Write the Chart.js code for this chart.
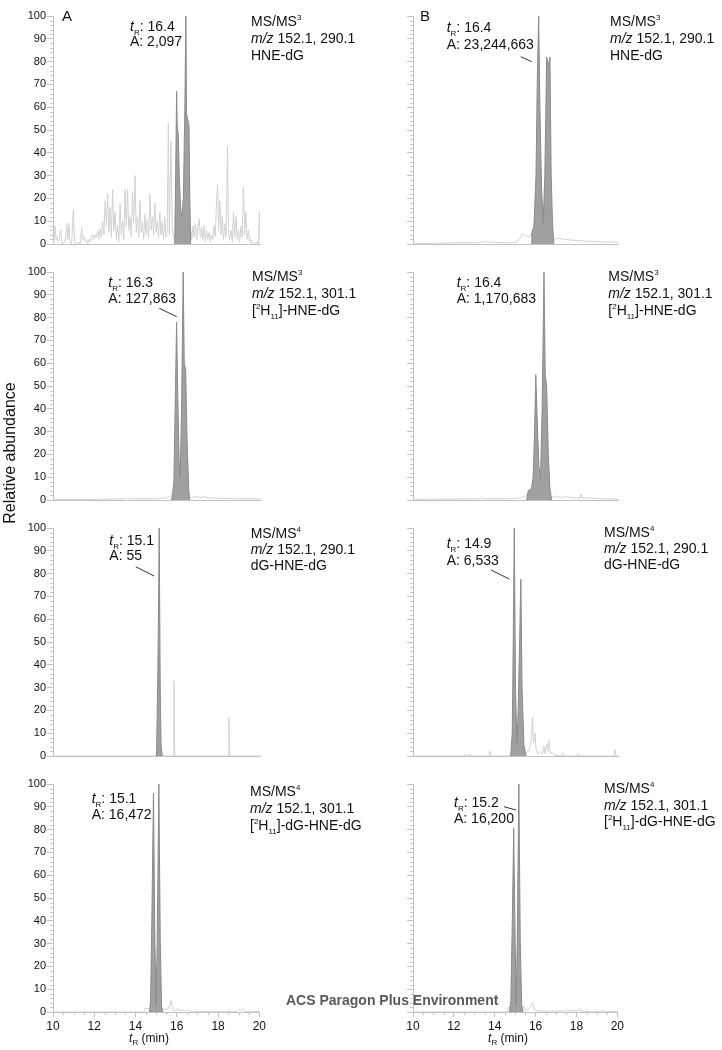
<!DOCTYPE html>
<html>
<head>
<meta charset="utf-8">
<script src="https://cdn.jsdelivr.net/npm/chart.js@4"></script>
<style>
body{margin:0;background:#fff;font-family:"Liberation Sans",Arial,sans-serif;}
#page{position:relative;width:722px;height:1050px;overflow:hidden;}
#page canvas{position:absolute;}
.txt{position:absolute;font-size:14px;color:#111;white-space:nowrap;}
.txt sub,.txt sup{font-size:8px;line-height:0;}
.lab{position:absolute;font-size:15px;color:#111;}
.ax{position:absolute;font-size:12px;color:#111;white-space:nowrap;transform:translateX(-50%);}
#ylab{position:absolute;left:10px;top:453px;font-size:16px;color:#111;white-space:nowrap;transform:translate(-50%,-50%) rotate(-90deg);}
#wm{position:absolute;left:286px;top:992px;font-size:14px;font-weight:bold;color:#5a5a5a;white-space:nowrap;}
svg{position:absolute;left:0;top:0;}
</style>
</head>
<body>
<div id="page"></div>
<script>
// time axis (min) and relative abundance ticks
const xTicks=[10,12,14,16,18,20];
const yTicks=[0,10,20,30,40,50,60,70,80,90,100];

// HNE-dG, sample A
const traceA1=[[10.00,2],[10.05,1],[10.10,8],[10.15,2],[10.20,3],[10.25,1],[10.30,2],[10.37,6],[10.42,1],[10.48,0],[10.55,1],[10.62,3],[10.66,9],[10.72,2],[10.77,9],[10.82,1],[10.90,0],[10.98,15],[11.04,1],[11.10,0],[11.18,0],[11.25,1],[11.32,0],[11.38,7],[11.44,2],[11.50,3],[11.56,1],[11.62,2],[11.68,0],[11.74,2],[11.80,1],[11.86,3],[11.92,4],[11.98,2],[12.04,4],[12.10,3],[12.16,6],[12.22,2],[12.28,7],[12.34,3],[12.40,10],[12.46,4],[12.52,19],[12.58,8],[12.64,22],[12.70,5],[12.76,16],[12.82,3],[12.88,24],[12.94,6],[13.00,14],[13.06,2],[13.12,8],[13.18,1],[13.24,18],[13.30,4],[13.36,10],[13.42,2],[13.48,24],[13.54,8],[13.60,24],[13.66,6],[13.72,12],[13.78,3],[13.84,23],[13.90,9],[13.96,30],[14.02,5],[14.08,12],[14.14,3],[14.20,19],[14.26,5],[14.32,10],[14.38,2],[14.44,13],[14.50,4],[14.56,11],[14.62,3],[14.68,22],[14.74,6],[14.80,12],[14.86,4],[14.92,18],[14.98,5],[15.04,10],[15.10,3],[15.16,14],[15.22,4],[15.28,10],[15.34,2],[15.40,12],[15.46,3],[15.52,6],[15.57,53],[15.62,4],[15.70,45],[15.76,8],[15.82,3],[15.86,2],[16.66,6],[16.70,2],[16.76,8],[16.82,3],[16.88,9],[16.94,2],[17.00,7],[17.06,11],[17.12,3],[17.18,7],[17.24,2],[17.30,8],[17.36,1],[17.42,6],[17.48,2],[17.54,5],[17.60,1],[17.66,4],[17.72,2],[17.78,8],[17.84,3],[17.90,19],[17.95,26],[18.00,6],[18.06,19],[18.12,4],[18.18,12],[18.24,2],[18.30,9],[18.36,3],[18.43,43],[18.48,4],[18.54,2],[18.60,6],[18.66,1],[18.72,14],[18.78,3],[18.84,12],[18.90,2],[18.96,6],[19.02,1],[19.08,8],[19.14,3],[19.20,25],[19.26,4],[19.32,14],[19.38,2],[19.44,6],[19.50,1],[19.56,2],[19.62,0],[19.70,1],[19.78,0],[19.86,1],[19.92,0],[19.97,14],[20.00,2]];
const peakA1=[[15.88,0],[15.92,25],[15.97,67],[16.00,52],[16.05,48],[16.10,30],[16.16,16],[16.22,12],[16.30,20],[16.37,60],[16.42,100],[16.45,57],[16.50,55],[16.57,52],[16.61,20],[16.65,0]];

// HNE-dG, sample B
const traceB1=[[10,0.3],[11,0.3],[12,0.5],[13,0.5],[13.5,1],[14,0.8],[14.5,0.5],[15.0,0.8],[15.13,1.5],[15.25,3],[15.34,4.5],[15.45,4],[15.54,3.5],[15.7,3],[15.78,5],[16.87,2],[17.1,2.5],[17.4,2],[18,1.5],[19,1],[20,0.8]];
const peakB1=[[15.78,0],[15.80,5],[15.90,8],[16.00,30],[16.06,70],[16.13,100],[16.19,60],[16.27,25],[16.35,9],[16.43,30],[16.52,82],[16.60,78],[16.68,82],[16.74,30],[16.81,8],[16.87,0]];

// [2H11]-HNE-dG
const traceA2=[[10,0.3],[12,0.3],[13.5,0.5],[13.6,1],[13.7,0.5],[15.0,0.5],[15.5,1],[15.73,2],[16.65,1],[16.9,1.5],[17.1,1],[17.3,1.5],[17.5,1],[18,0.8],[19,0.5],[20,0.5]];
const peakA2=[[15.73,0],[15.78,3],[15.84,8],[15.90,40],[15.97,78],[16.03,45],[16.10,15],[16.15,9.6],[16.21,40],[16.29,100],[16.34,60],[16.41,57],[16.48,25],[16.56,4],[16.61,0]];
const traceB2=[[10,0.3],[12,0.4],[13.2,0.5],[13.3,1.2],[13.4,0.5],[14.5,0.5],[15.3,1],[15.54,2],[16.76,1],[17,1.8],[17.2,1],[17.4,1.5],[17.8,1],[18.15,0.8],[18.2,2.5],[18.25,0.8],[18.6,1],[19,0.6],[19.5,0.5],[20,0.3]];
const peakB2=[[15.54,0],[15.62,4],[15.78,5],[15.86,10],[15.93,30],[15.99,55],[16.06,35],[16.14,15],[16.22,9],[16.30,40],[16.39,100],[16.45,55],[16.52,50],[16.60,20],[16.68,5],[16.76,0]];

// dG-HNE-dG
const traceA3=[[10,0],[14.95,0],[14.98,1],[15.3,1],[15.33,0],[15.80,0],[15.84,33],[15.88,0],[18.46,0],[18.50,16.6],[18.54,0],[20,0]];
const peakA3=[[15.00,0],[15.07,40],[15.10,68],[15.13,100],[15.18,30],[15.22,5],[15.27,0]];
const traceB3=[[10,0],[12.48,0],[12.53,0.8],[12.58,0],[12.72,0],[12.77,0.8],[12.82,0],[13.70,0],[13.75,2],[13.80,0],[14.72,0],[14.75,1.5],[15.52,1],[15.6,2],[15.7,4],[15.78,8],[15.83,17],[15.88,6],[15.95,10],[16.0,3],[16.1,1],[16.2,2],[16.3,1],[16.39,4.5],[16.44,1],[16.52,5.5],[16.58,2],[16.65,7],[16.7,1],[16.8,1.5],[16.9,0.5],[17.25,0],[17.3,1.5],[17.35,0],[18.02,0],[18.06,1],[18.1,0],[19.8,0],[19.85,3],[19.9,0],[20,0]];
const peakB3=[[14.77,0],[14.84,10],[14.89,50],[14.94,100],[15.00,30],[15.07,5],[15.13,20],[15.20,50],[15.26,77.5],[15.32,30],[15.41,5],[15.51,0]];

// [2H11]-dG-HNE-dG
const traceA4=[[10,0],[14.40,0],[14.45,1.5],[14.68,1.5],[15.31,1.5],[15.45,1],[15.6,1.5],[15.73,5],[15.8,1],[15.95,0.5],[16.05,1.5],[16.15,0.5],[16.25,1],[16.35,0.3],[16.45,1],[16.6,0.3],[18.9,0.3],[19.0,1.2],[19.1,0.5],[19.2,1.5],[19.3,0.3],[20,0.3]];
const peakA4=[[14.68,0],[14.73,5],[14.79,40],[14.87,96],[14.94,30],[15.00,3],[15.05,30],[15.13,100],[15.20,30],[15.26,3],[15.31,0]];
const traceB4=[[10,0],[14.60,0],[14.65,2],[15.45,2],[15.5,0.5],[15.6,1],[15.75,2],[15.85,4],[15.95,1],[16.1,0.5],[16.5,0.3],[17.5,0.5],[18.1,0.5],[18.18,1.5],[18.25,0.3],[19.2,0.3],[19.28,0.8],[19.35,0.3],[20,0.3]];
const peakB4=[[14.72,0],[14.79,5],[14.86,40],[14.93,80.7],[15.00,30],[15.05,3],[15.10,30],[15.18,100],[15.25,30],[15.32,3],[15.39,0]];

const page=document.getElementById('page');
const FONT='"Liberation Sans", Arial, sans-serif';

const minorTicks={id:'minorTicks',afterDraw(c,args,o){
  const ctx=c.ctx,a=c.chartArea,ys=c.scales.y,xs=c.scales.x;
  ctx.save();ctx.strokeStyle='#c6c6c6';ctx.lineWidth=1;ctx.beginPath();
  for(let v=0;v<=100;v+=2){
    if(v%10===0)continue;
    const py=Math.round(ys.getPixelForValue(v))+0.5;
    ctx.moveTo(a.left-3,py);ctx.lineTo(a.left,py);
  }
  if(o.bottom){
    for(let t=10;t<=20;t+=0.5){
      if(t%2===0)continue;
      const px=Math.round(xs.getPixelForValue(t))+0.5;
      ctx.moveTo(px,a.bottom);ctx.lineTo(px,a.bottom+3);
    }
  }
  ctx.stroke();ctx.restore();
}};

function pts(arr){return arr.map(p=>({x:p[0],y:p[1]}));}

function panel(left,top,trace,peak,labels,bottom){
  const cv=document.createElement('canvas');
  const w=left?268:266,h=bottom?268:248;
  cv.width=w;cv.height=h;
  cv.style.left=(left?0:360)+'px';cv.style.top=top+'px';
  page.appendChild(cv);
  new Chart(cv,{
    type:'line',
    data:{datasets:[
      {data:pts(peak),borderColor:'#8a8a8a',backgroundColor:'#a0a0a0',borderWidth:1,fill:'origin',pointRadius:0,tension:0},
      {data:pts(trace),borderColor:'#d2d2d2',borderWidth:1,fill:false,pointRadius:0,tension:0}
    ]},
    options:{
      responsive:false,animation:false,devicePixelRatio:1,
      layout:{padding:{top:10,right:8,bottom:bottom?0:10,left:0}},
      plugins:{legend:{display:false},tooltip:{enabled:false},minorTicks:{bottom:bottom}},
      scales:{
        x:{type:'linear',min:10,max:20,
          afterBuildTicks:s=>{s.ticks=xTicks.map(v=>({value:v}));},
          afterFit:s=>{s.height=bottom?30:0;},
          border:{color:'#c2c2c2'},
          grid:{drawOnChartArea:false,drawTicks:bottom,tickLength:5,tickColor:'#c2c2c2'},
          ticks:{display:bottom,autoSkip:false,maxRotation:0,padding:2,color:'#111',font:{family:FONT,size:12}}
        },
        y:{min:0,max:100,
          afterBuildTicks:s=>{s.ticks=yTicks.map(v=>({value:v}));},
          afterFit:s=>{s.width=53;},
          border:{color:'#c2c2c2'},
          grid:{drawOnChartArea:false,tickLength:6,tickColor:'#c2c2c2'},
          ticks:{padding:1,color:'#111',font:{family:FONT,size:11},callback:v=>labels?String(v):''}
        }
      }
    },
    plugins:[minorTicks]
  });
}

panel(true,6,traceA1,peakA1,true,false);
panel(false,6,traceB1,peakB1,false,false);
panel(true,262,traceA2,peakA2,true,false);
panel(false,262,traceB2,peakB2,false,false);
panel(true,518,traceA3,peakA3,true,false);
panel(false,518,traceB3,peakB3,false,false);
panel(true,774,traceA4,peakA4,true,true);
panel(false,774,traceB4,peakB4,false,true);

function text(x,baseline,lh,lines){
  const d=document.createElement('div');
  d.className='txt';
  d.style.left=x+'px';
  d.style.lineHeight=lh+'px';
  d.style.top=(baseline-(lh-15.6)/2-12.7)+'px';
  d.innerHTML=lines.join('<br>');
  page.appendChild(d);
}
const tR='<i>t</i><sub>R</sub>';
const d11='[<sup>2</sup>H<sub>11</sub>]';

text(130,31.5,14.5,[tR+': 16.4','A: 2,097']);
text(251,26.7,17,['MS/MS<sup>3</sup>','<i>m/z</i> 152.1, 290.1','HNE-dG']);
text(446.7,32.3,17,[tR+': 16.4','A: 23,244,663']);
text(610,26.7,17,['MS/MS<sup>3</sup>','<i>m/z</i> 152.1, 290.1','HNE-dG']);

text(108.3,286.7,16.6,[tR+': 16.3','A: 127,863']);
text(252,281.7,16.7,['MS/MS<sup>3</sup>','<i>m/z</i> 152.1, 301.1',d11+'-HNE-dG']);
text(456.7,286.7,16.6,[tR+': 16.4','A: 1,170,683']);
text(608.3,281.7,16.7,['MS/MS<sup>3</sup>','<i>m/z</i> 152.1, 301.1',d11+'-HNE-dG']);

text(109.3,545,15,[tR+': 15.1','A: 55']);
text(250.7,538.3,16,['MS/MS<sup>4</sup>','<i>m/z</i> 152.1, 290.1','dG-HNE-dG']);
text(446.7,548.3,16.7,[tR+': 14.9','A: 6,533']);
text(604,536.7,16,['MS/MS<sup>4</sup>','<i>m/z</i> 152.1, 290.1','dG-HNE-dG']);

text(91.7,802.7,16.6,[tR+': 15.1','A: 16,472']);
text(250,796.7,16.7,['MS/MS<sup>4</sup>','<i>m/z</i> 152.1, 301.1',d11+'-dG-HNE-dG']);
text(454,807.7,15.6,[tR+': 15.2','A: 16,200']);
text(604,793.3,16.7,['MS/MS<sup>4</sup>','<i>m/z</i> 152.1, 301.1',d11+'-dG-HNE-dG']);

page.insertAdjacentHTML('beforeend',
 '<div class="lab" style="left:62px;top:7px">A</div>'+
 '<div class="lab" style="left:420px;top:7px">B</div>'+
 '<div class="ax" style="left:149px;top:1031px"><i>t</i><sub style="font-size:8px">R</sub> (min)</div>'+
 '<div class="ax" style="left:508px;top:1031px"><i>t</i><sub style="font-size:8px">R</sub> (min)</div>'+
 '<div id="ylab">Relative abundance</div>'+
 '<svg width="722" height="1050" stroke="#333" stroke-width="1">'+
 '<line x1="520.7" y1="56.7" x2="531.7" y2="61.7"/>'+
 '<line x1="159.3" y1="308.3" x2="176.7" y2="316.7"/>'+
 '<line x1="135.7" y1="566.7" x2="154" y2="576"/>'+
 '<line x1="491" y1="570" x2="509.3" y2="579"/>'+
 '<line x1="504" y1="806.7" x2="516" y2="810"/>'+
 '</svg>'+
 '<div id="wm">ACS Paragon Plus Environment</div>');
</script>
</body>
</html>
